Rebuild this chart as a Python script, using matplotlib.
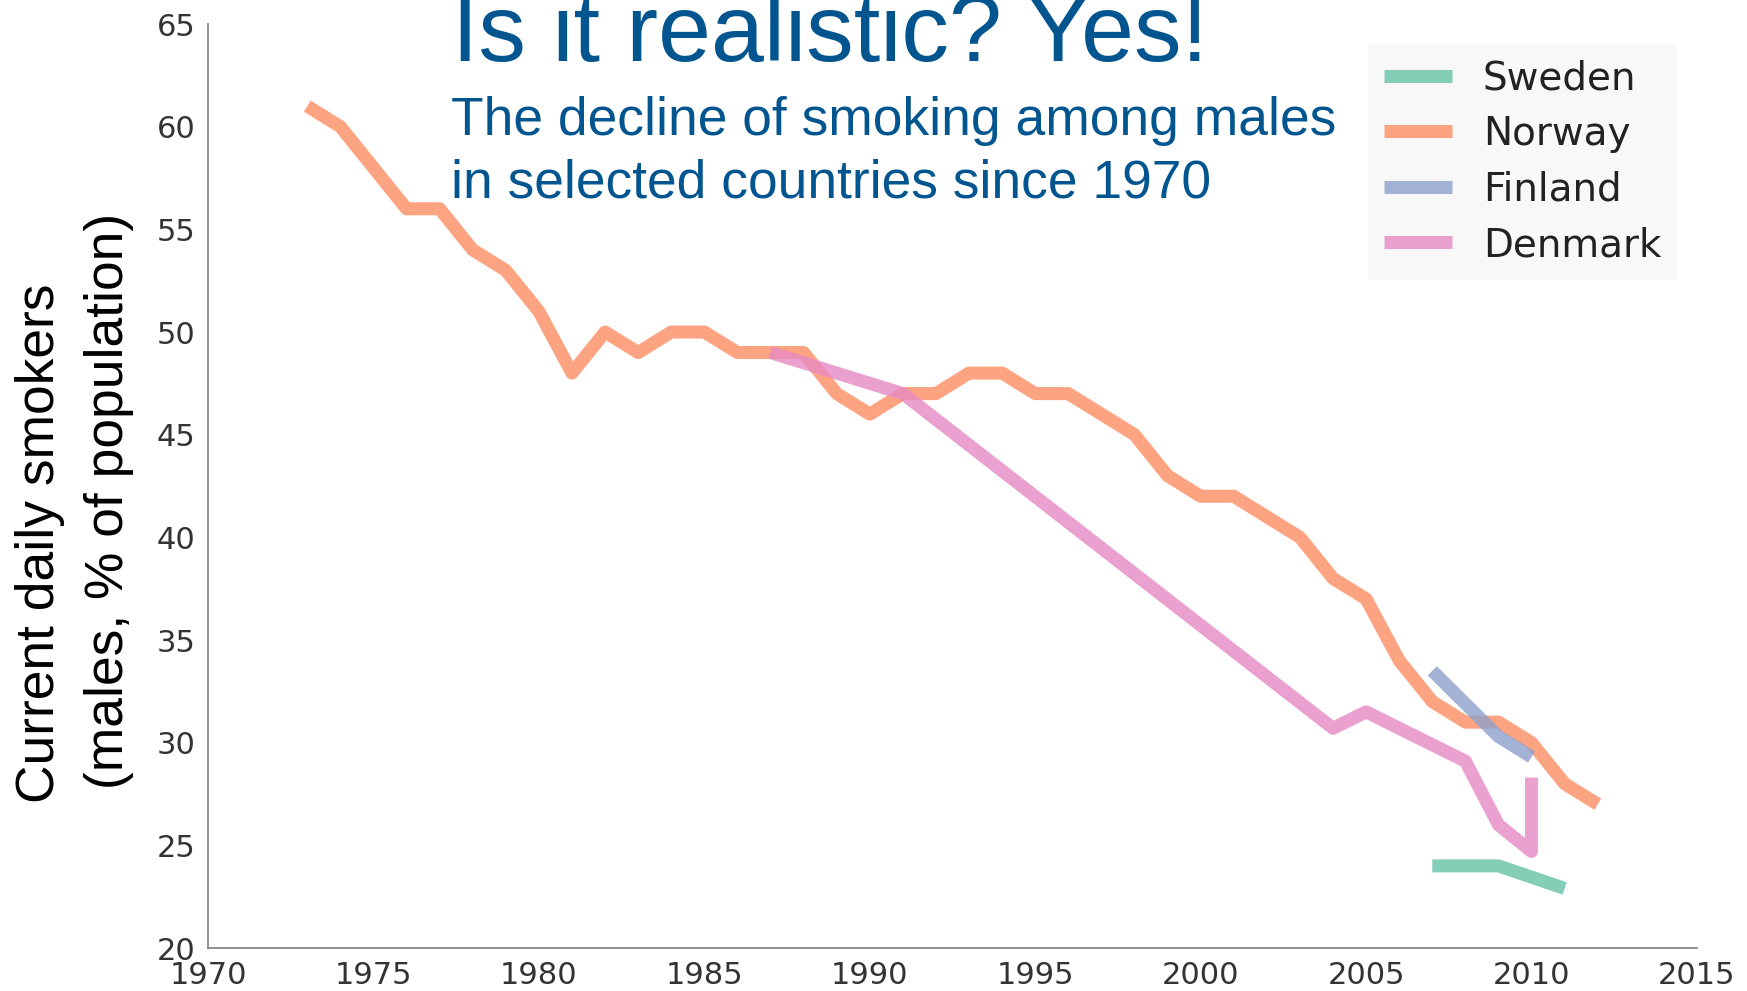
import matplotlib
matplotlib.use("Agg")
from matplotlib import pyplot as plt

# Current daily smokers, males, % of population
sweden_years = [2007, 2008, 2009, 2011]
sweden_vals = [24.0, 24.0, 24.0, 22.9]

norway_years = list(range(1973, 2013))
norway_vals = [61, 60, 58, 56, 56, 54, 53, 51, 48, 50,
               49, 50, 50, 49, 49, 49, 47, 46, 47, 47,
               48, 48, 47, 47, 46, 45, 43, 42, 42, 41,
               40, 38, 37, 34, 32, 31, 31, 30, 28, 27]

finland_years = [2007, 2008, 2009, 2010]
finland_vals = [33.5, 31.9, 30.3, 29.3]

denmark_years = [1987, 1991, 2004, 2005, 2008, 2009, 2010, 2010]
denmark_vals = [49.0, 47.0, 30.7, 31.5, 29.1, 26.0, 24.7, 28.3]

countries = ["Sweden", "Norway", "Finland", "Denmark"]
colors = ["#66c2a5", "#fc8d62", "#8da0cb", "#e78ac3"]

x_ticks = list(range(1970, 2016, 5))
y_ticks = list(range(20, 66, 5))

title_text = "Is it realistic? Yes!"
subtitle_lines = ["The decline of smoking among males", "in selected countries since 1970"]
ylabel_lines = ["Current daily smokers", "(males, % of population)"]

W, H = 1747, 991
fig = plt.figure(figsize=(W / 100, H / 100), dpi=100)
ax = fig.add_axes([208 / W, 1 - 948 / H, (1697 - 208) / W, (948 - 24) / H])

series = [(sweden_years, sweden_vals), (norway_years, norway_vals),
          (finland_years, finland_vals), (denmark_years, denmark_vals)]
for (xs, ys), name, c in zip(series, countries, colors):
    ax.plot(xs, ys, color=c, lw=9.4, alpha=0.8, label=name,
            solid_capstyle="butt", solid_joinstyle="round")

ax.set_xlim(1970, 2015)
ax.set_ylim(20, 65)
ax.set_xticks(x_ticks)
ax.set_yticks(y_ticks)
ax.tick_params(length=0, labelsize=22, colors="#333333", pad=9)
for s in ["top", "right"]:
    ax.spines[s].set_visible(False)
for s in ["left", "bottom"]:
    ax.spines[s].set_color("#888888")
    ax.spines[s].set_linewidth(1.3)

leg = ax.legend(loc="upper right", bbox_to_anchor=(1677 / W, 1 - 44 / H),
                bbox_transform=fig.transFigure, borderaxespad=0,
                fontsize=28, frameon=True, fancybox=False,
                handlelength=1.75, handletextpad=0.8, labelspacing=0.45,
                borderpad=0.4)
leg.get_frame().set_facecolor("#f7f7f7")
leg.get_frame().set_edgecolor("none")
for t in leg.get_texts():
    t.set_color("#222222")

blue = "#02558f"
fig.text(452 / W, 1 - 61 / H, title_text, fontsize=68.5, color=blue,
         family="Liberation Sans", ha="left", va="baseline")
fig.text(451 / W, 1 - 135 / H, subtitle_lines[0], fontsize=38.4, color=blue,
         family="Liberation Sans", ha="left", va="baseline")
fig.text(451 / W, 1 - 198 / H, subtitle_lines[1], fontsize=38.4, color=blue,
         family="Liberation Sans", ha="left", va="baseline")

fig.text(40 / W, 1 - 543 / H, ylabel_lines[0], fontsize=38.4, color="black",
         family="Liberation Sans", rotation=90, ha="center", va="center")
fig.text(109 / W, 1 - 501 / H, ylabel_lines[1], fontsize=38.4, color="black",
         family="Liberation Sans", rotation=90, ha="center", va="center")

fig.savefig("out.png", dpi=100)
